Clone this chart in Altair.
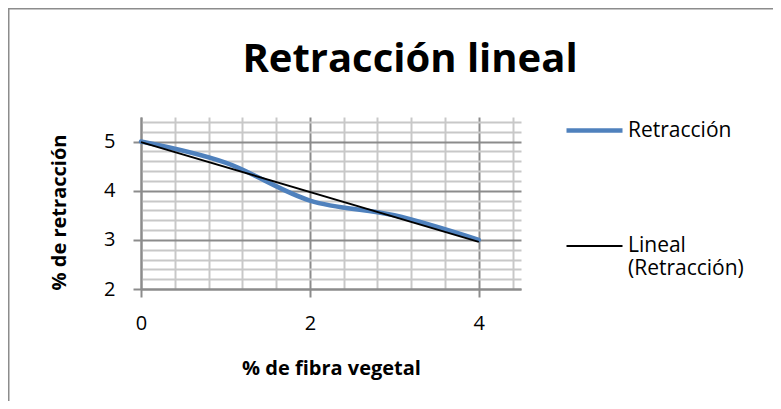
import altair as alt
import pandas as pd

# --- data ---
fibra = [0, 1, 2, 3, 4]                 # % de fibra vegetal
retraccion = [5.0, 4.57, 3.8, 3.5, 3.0]  # % de retracción
serie_datos = "Retracción"
serie_tend = "Lineal (Retracción)"

x_ticks = [round(k * 0.4, 1) for k in range(12)]      # 0 .. 4.4
y_ticks = [round(2 + k * 0.2, 1) for k in range(18)]  # 2 .. 5.4

FONT = "Open Sans"
BLUE = "#4F81BD"
MAJOR = "#8c8c8c"
MINOR = "#c8c8c8"

df = pd.DataFrame({"x": fibra, "y": retraccion})

color_scale = alt.Scale(domain=[serie_datos, serie_tend], range=[BLUE, "#000000"])
width_scale = alt.Scale(domain=[serie_datos, serie_tend], range=[4.5, 1.9])

legend = alt.Legend(
    title=None, orient="none", legendX=423, legendY=-17,
    symbolType="stroke", symbolSize=3136, padding=0,
    labelFont=FONT, labelFontSize=21, labelColor="#000000",
    labelOffset=3, rowPadding=76, labelLimit=300,
    labelExpr="datum.label == 'Lineal (Retracción)' ? ['Lineal', '(Retracción)'] : datum.label",
)

x_major = "abs(datum.value / 2 - round(datum.value / 2)) < 1e-6"
y_major = "abs(datum.value - round(datum.value)) < 1e-6"

x_enc = alt.X(
    "x:Q",
    scale=alt.Scale(domain=[0, 4.5], nice=False, zero=False),
    axis=alt.Axis(
        values=x_ticks, tickCount=200, title="% de fibra vegetal",
        labelExpr=f"{x_major} ? toString(round(datum.value)) : ''",
        grid=True,
        gridColor={"condition": {"test": x_major, "value": MAJOR}, "value": MINOR},
        gridWidth=2,
        tickOpacity={"condition": {"test": x_major, "value": 1}, "value": 0},
        tickColor=MAJOR, tickWidth=2, tickSize=8,
        domainColor=MAJOR, domainWidth=2,
        labelFont=FONT, labelFontSize=20, labelColor="#000000", labelPadding=16,
        labelOverlap=False, labelFlush=False,
        titleFont=FONT, titleFontSize=20, titleFontWeight="bold", titleColor="#000000",
        titlePadding=25,
    ),
)
y_enc = alt.Y(
    "y:Q",
    scale=alt.Scale(domain=[2, 5.5], nice=False, zero=False),
    axis=alt.Axis(
        values=y_ticks, tickCount=200, title="% de retracción",
        labelExpr=f"{y_major} ? toString(round(datum.value)) : ''",
        grid=True,
        gridColor={"condition": {"test": y_major, "value": MAJOR}, "value": MINOR},
        gridWidth=2,
        tickOpacity={"condition": {"test": y_major, "value": 1}, "value": 0},
        tickColor=MAJOR, tickWidth=2, tickSize=8,
        domainColor=MAJOR, domainWidth=2,
        labelFont=FONT, labelFontSize=20, labelColor="#000000", labelPadding=18,
        labelOverlap=False, labelFlush=False,
        titleFont=FONT, titleFontSize=20, titleFontWeight="bold", titleColor="#000000",
        titlePadding=34, titleY=95,
    ),
)

datos = alt.Chart(df).transform_calculate(
    serie=f"'{serie_datos}'"
).mark_line(interpolate="cardinal", strokeCap="round").encode(
    x=x_enc, y=y_enc,
    color=alt.Color("serie:N", scale=color_scale, legend=legend),
    strokeWidth=alt.StrokeWidth("serie:N", scale=width_scale, legend=legend),
)

tendencia = alt.Chart(df).transform_regression(
    "x", "y"
).transform_calculate(
    serie=f"'{serie_tend}'"
).mark_line().encode(
    x="x:Q", y="y:Q",
    color=alt.Color("serie:N", scale=color_scale, legend=legend),
    strokeWidth=alt.StrokeWidth("serie:N", scale=width_scale, legend=legend),
)

marco = alt.Chart(pd.DataFrame({"k": [0]})).mark_rule(color="#8c8c8c", strokeWidth=1.5)
borde_izq = marco.encode(x=alt.value(-132.25), y=alt.value(-109), y2=alt.value(290))
borde_sup = marco.encode(x=alt.value(-133), x2=alt.value(640), y=alt.value(-108.25))

chart = alt.layer(datos, tendencia, borde_izq, borde_sup).properties(
    width=380, height=172,
    title=alt.TitleParams(
        "Retracción lineal", font=FONT, fontSize=40, fontWeight="bold",
        color="#000000", anchor="middle", frame="group", dx=79,
        baseline="alphabetic", offset=-105,
    ),
    autosize=alt.AutoSizeParams(type="none"),
    padding={"left": 133, "top": 109, "right": 252, "bottom": 112},
).configure_view(stroke=None)

chart.save("out.html", embed_options={"renderer": "svg", "actions": False})
